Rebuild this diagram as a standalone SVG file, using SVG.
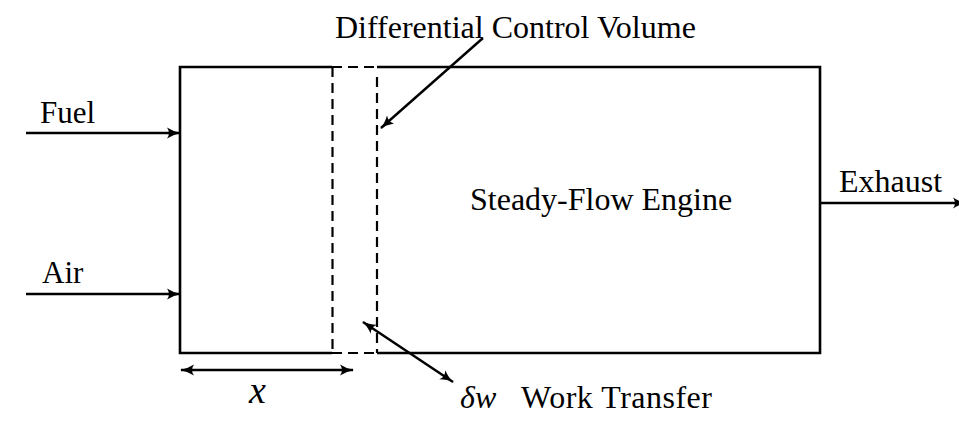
<svg xmlns="http://www.w3.org/2000/svg" width="959" height="422" viewBox="0 0 959 422">
  <style>
    .t { font-family: 'Liberation Serif', 'Times New Roman', serif; font-size: 32px; fill: #000; }
    .s { font-size: 31px; }
    .i { font-style: italic; }
    .solid { stroke: #000; stroke-width: 2.6; fill: none; }
    .dash { stroke: #000; stroke-width: 2.2; fill: none; stroke-dasharray: 10 6; }
    .arr { stroke: #000; stroke-width: 2.4; fill: none; marker-end: url(#ah); }
    .dbl { stroke: #000; stroke-width: 2.4; fill: none; marker-start: url(#ah); marker-end: url(#ah); }
  </style>
  <defs>
    <marker id="ah" markerUnits="userSpaceOnUse" markerWidth="16" markerHeight="12" refX="13" refY="6" orient="auto-start-reverse" viewBox="0 0 16 12">
      <path d="M0,0.5 Q7,5 14,6 Q7,7 0,11.5 Q4,6 0,0.5 Z" fill="#000"/>
    </marker>
  </defs>
  <rect width="959" height="422" fill="#fff"/>

  <g id="engine">
    <path class="solid" d="M332,67 H180 V353 H332 M377,353 H820 V67 H377"/>
    <path class="dash" d="M332,67 H377 M332,353 H377"/>
    <text class="t" x="470" y="210">Steady-Flow Engine</text>
  </g>

  <g id="control-volume">
    <line class="dash" x1="332.5" y1="67" x2="332.5" y2="353"/>
    <line class="dash" x1="377" y1="77" x2="377" y2="353"/>
    <text class="t" x="335" y="38">Differential Control Volume</text>
  </g>

  <g id="fuel"><text class="t s" x="40" y="123">Fuel</text></g>
  <g id="air"><text class="t s" x="42" y="283">Air</text></g>
  <g id="exhaust"><text class="t" x="839" y="192">Exhaust</text></g>
  <g id="work"><text class="t" x="460" y="408"><tspan class="i">δw</tspan><tspan x="521" letter-spacing="0.5">Work Transfer</tspan></text></g>
  <g id="xlabel"><text class="t i" x="249" y="403" style="font-size:38px">x</text></g>

  <g id="connectors">
    <line class="arr" x1="26" y1="133" x2="180" y2="133"/>
    <line class="arr" x1="26" y1="294" x2="180" y2="294"/>
    <line class="arr" x1="820" y1="203" x2="966" y2="203"/>
    <line class="arr" x1="483" y1="38" x2="381" y2="128"/>
    <line class="dbl" x1="363" y1="322" x2="453" y2="382"/>
    <line class="dbl" x1="181" y1="370" x2="353" y2="370"/>
  </g>
</svg>
